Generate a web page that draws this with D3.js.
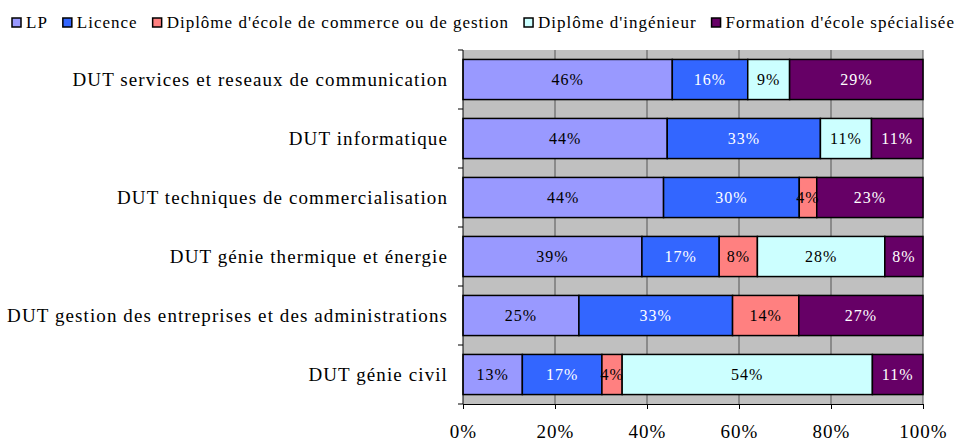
<!DOCTYPE html>
<html lang="fr">
<head>
  <meta charset="UTF-8">
  <title>Poursuite d'études après DUT</title>
  <script src="https://d3js.org/d3.v7.min.js"></script>
  <style>
    body { margin: 0; background: #fff; }
    text { font-family: "Liberation Serif", "Times New Roman", serif; }
  </style>
</head>
<body>
  <div id="graphique"></div>

  <script>
    // categories (haut -> bas)
    const formations = [
      "DUT services et reseaux de communication",
      "DUT informatique",
      "DUT techniques de commercialisation",
      "DUT génie thermique et énergie",
      "DUT gestion des entreprises et des administrations",
      "DUT génie civil"
    ];

    const series = ["LP", "Licence", "Diplôme d'école de commerce ou de gestion", "Diplôme d'ingénieur", "Formation d'école spécialisée"];

    // valeurs en % pour chaque série, dans l'ordre des formations
    const lp         = [45.5, 44.4, 43.6, 38.9, 25.2, 12.9];
    const licence    = [16.4, 33.3, 29.5, 16.8, 33.4, 17.3];
    const commerce   = [0,    0,    3.8,  8.3,  14.4, 4.4];
    const ingenieur  = [9.1,  11.1, 0,    27.7, 0,    54.4];
    const specialise = [29.0, 11.2, 23.1, 8.3,  27.0, 11.0];

    const ticksX = [0, 20, 40, 60, 80, 100];

    const couleurs = ["#9999ff", "#3366ff", "#ff8080", "#ccffff", "#660066"];
    const couleursTexte = ["#000", "#fff", "#000", "#000", "#fff"];

    const donnees = formations.map((f, i) => ({
      formation: f,
      valeurs: [lp[i], licence[i], commerce[i], ingenieur[i], specialise[i]]
    }));

    const largeur = 963, hauteur = 443;
    const marge = { haut: 50, droite: 40, bas: 39, gauche: 463 };
    const w = largeur - marge.gauche - marge.droite;
    const h = hauteur - marge.haut - marge.bas;

    const svg = d3.select("#graphique").append("svg")
      .attr("width", largeur)
      .attr("height", hauteur);

    const g = svg.append("g")
      .attr("transform", `translate(${marge.gauche},${marge.haut})`);

    const x = d3.scaleLinear().domain([0, 100]).range([0, w]);
    const y = d3.scaleBand().domain(formations).range([0, h])
      .paddingInner(0.32).paddingOuter(0.16);

    // fond gris
    g.append("rect")
      .attr("width", w).attr("height", h)
      .attr("fill", "#c0c0c0");

    // quadrillage
    g.selectAll(".grille")
      .data(ticksX.slice(1))
      .enter().append("line")
      .attr("x1", d => x(d)).attr("x2", d => x(d))
      .attr("y1", 0).attr("y2", h)
      .attr("stroke", "#555").attr("stroke-width", 1);

    // barres empilées
    const lignes = g.selectAll(".ligne")
      .data(donnees)
      .enter().append("g")
      .attr("transform", d => `translate(0,${y(d.formation)})`);

    lignes.each(function(d) {
      const groupe = d3.select(this);
      let cumul = 0;
      const segments = d.valeurs.map((v, k) => {
        const s = { debut: cumul, valeur: v, k: k };
        cumul += v;
        return s;
      }).filter(s => s.valeur > 0);

      groupe.selectAll("rect")
        .data(segments)
        .enter().append("rect")
        .attr("x", s => x(s.debut))
        .attr("y", 0)
        .attr("width", s => x(s.debut + s.valeur) - x(s.debut))
        .attr("height", y.bandwidth())
        .attr("fill", s => couleurs[s.k])
        .attr("stroke", "#000")
        .attr("stroke-width", 1.5);

      groupe.selectAll("text")
        .data(segments)
        .enter().append("text")
        .attr("x", s => x(s.debut + s.valeur / 2))
        .attr("y", y.bandwidth() / 2)
        .attr("dy", "0.35em")
        .attr("text-anchor", "middle")
        .attr("font-size", 16)
        .attr("letter-spacing", 1)
        .attr("fill", s => couleursTexte[s.k])
        .text(s => Math.round(s.valeur) + "%");
    });

    // axe X
    const axeX = g.append("g")
      .attr("transform", `translate(0,${h})`)
      .call(d3.axisBottom(x).tickValues(ticksX).tickFormat(d => d + "%").tickSizeInner(5).tickSizeOuter(0).tickPadding(16));
    axeX.select(".domain").attr("stroke", "#000");
    axeX.selectAll("text")
      .attr("font-size", 19)
      .attr("letter-spacing", 1)
      .attr("fill", "#000")
      .style("font-family", "'Liberation Serif', serif");

    // axe Y
    const limites = d3.range(formations.length + 1).map(i => i * y.step());
    const axeY = g.append("g");
    axeY.append("line")
      .attr("x1", 0).attr("x2", 0).attr("y1", 0).attr("y2", h)
      .attr("stroke", "#000");
    axeY.selectAll(".tick")
      .data(limites)
      .enter().append("line")
      .attr("x1", -5).attr("x2", 0)
      .attr("y1", d => d).attr("y2", d => d)
      .attr("stroke", "#000");

    g.selectAll(".cat")
      .data(formations)
      .enter().append("text")
      .attr("x", -15)
      .attr("y", d => y(d) + y.bandwidth() / 2)
      .attr("dy", "0.35em")
      .attr("text-anchor", "end")
      .attr("font-size", 19)
      .attr("letter-spacing", 1.1)
      .attr("fill", "#000")
      .text(d => d);

    // légende
    const legende = svg.append("g").attr("transform", "translate(12,18)");
    let pos = 0;
    series.forEach((s, k) => {
      const item = legende.append("g").attr("transform", `translate(${pos},0)`);
      item.append("rect")
        .attr("width", 9).attr("height", 9)
        .attr("fill", couleurs[k])
        .attr("stroke", "#000").attr("stroke-width", 1.5);
      const t = item.append("text")
        .attr("x", 14).attr("y", 10)
        .attr("font-size", 17)
        .attr("letter-spacing", 1)
        .attr("fill", "#000")
        .text(s);
      pos += 14 + t.node().getComputedTextLength() + 15;
    });
  </script>
</body>
</html>
